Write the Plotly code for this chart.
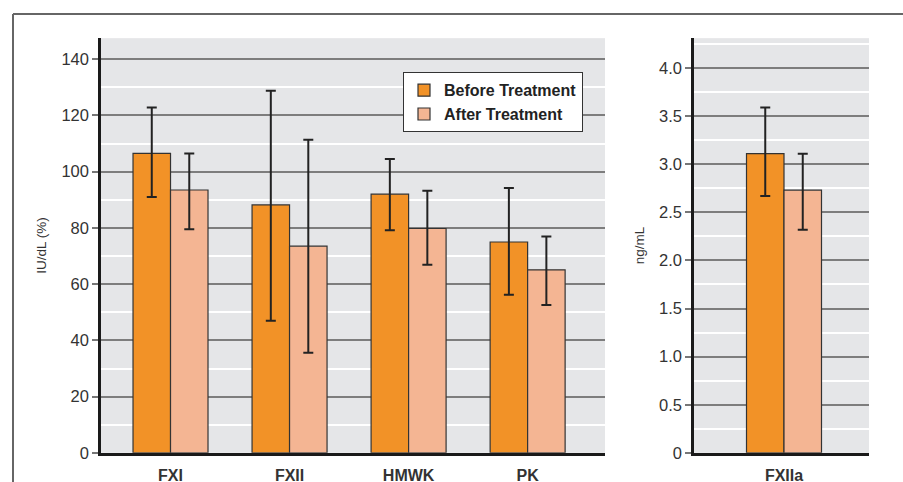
import plotly.graph_objects as go

# ---- data ----
categories = ["FXI", "FXII", "HMWK", "PK"]
before_vals = [106.5, 88.2, 92.0, 75.0]
before_hi = [122.8, 128.8, 104.5, 94.2]
before_lo = [91.0, 47.0, 79.2, 56.2]
after_vals = [93.5, 73.5, 79.8, 65.1]
after_hi = [106.5, 111.4, 93.2, 77.0]
after_lo = [79.5, 35.6, 66.9, 52.6]

cat2 = ["FXIIa"]
before2 = [3.11]
before2_hi = [3.59]
before2_lo = [2.67]
after2 = [2.73]
after2_hi = [3.11]
after2_lo = [2.32]

left_ticks = [0, 20, 40, 60, 80, 100, 120, 140]
right_ticks = [0, 0.5, 1.0, 1.5, 2.0, 2.5, 3.0, 3.5, 4.0]
right_ticktext = ["0", "0.5", "1.0", "1.5", "2.0", "2.5", "3.0", "3.5", "4.0"]

series_names = ["Before Treatment", "After Treatment"]
colors = ["#f29227", "#f4b593"]

W, H = 903, 493
RH = 482  # reference height used for fractional placement
FONT = "Liberation Sans, Arial, Helvetica, sans-serif"


def plus(v, hi):
    return [h - x for x, h in zip(v, hi)]


def minus(v, lo):
    return [x - l for x, l in zip(v, lo)]


fig = go.Figure()
err_style = dict(type="data", color="#222222", thickness=2, width=5, visible=True)
bar_line = dict(color="#333333", width=1.2)

fig.add_trace(go.Bar(x=categories, y=before_vals, name=series_names[0],
                     marker=dict(color=colors[0], line=bar_line),
                     error_y=dict(array=plus(before_vals, before_hi),
                                  arrayminus=minus(before_vals, before_lo), **err_style),
                     xaxis="x", yaxis="y", legendgroup="b"))
fig.add_trace(go.Bar(x=categories, y=after_vals, name=series_names[1],
                     marker=dict(color=colors[1], line=bar_line),
                     error_y=dict(array=plus(after_vals, after_hi),
                                  arrayminus=minus(after_vals, after_lo), **err_style),
                     xaxis="x", yaxis="y", legendgroup="a"))
fig.add_trace(go.Bar(x=cat2, y=before2, name=series_names[0], showlegend=False,
                     marker=dict(color=colors[0], line=bar_line),
                     error_y=dict(array=plus(before2, before2_hi),
                                  arrayminus=minus(before2, before2_lo), **err_style),
                     xaxis="x2", yaxis="y2", legendgroup="b"))
fig.add_trace(go.Bar(x=cat2, y=after2, name=series_names[1], showlegend=False,
                     marker=dict(color=colors[1], line=bar_line),
                     error_y=dict(array=plus(after2, after2_hi),
                                  arrayminus=minus(after2, after2_lo), **err_style),
                     xaxis="x2", yaxis="y2", legendgroup="a"))

ybot = (RH - 451) / RH
ytop = (RH - 38) / RH

common_x = dict(showgrid=False, showline=True, linecolor="#1a1a1a", linewidth=2.5,
                ticks="", ticklabelstandoff=6,
                tickfont=dict(family=FONT, size=16, color="#333333", weight="bold"),
                fixedrange=True, type="category")
common_y = dict(showline=True, linecolor="#1a1a1a", linewidth=2.5, ticks="outside",
                ticklen=6, tickcolor="#777777", tickwidth=1.5,
                gridcolor="#7d7d7d", gridwidth=1.5, zeroline=False,
                tickfont=dict(family=FONT, size=16.5, color="#333333"),
                fixedrange=True)

fig.update_layout(
    width=W, height=H,
    margin=dict(l=0, r=0, t=0, b=0),
    paper_bgcolor="white",
    plot_bgcolor="#e5e6e8",
    barmode="group", bargap=0.37, bargroupgap=0,
    font=dict(family=FONT, color="#333333"),
    xaxis=dict(domain=[101 / W, 605 / W], range=[-0.584, 3.65], anchor="y", **common_x),
    xaxis2=dict(domain=[694 / W, 869 / W], range=[-0.756, 0.714], anchor="y2", **common_x),
    yaxis=dict(domain=[ybot, ytop], range=[0, 147.5], tickvals=left_ticks, anchor="x",
               minor=dict(tickvals=[10, 30, 50, 70, 90, 110, 130, 150], showgrid=True,
                          gridcolor="white", gridwidth=1.5, ticks=""),
               title=dict(text="IU/dL (%)", font=dict(family=FONT, size=13.5, color="#333333"),
                          standoff=12),
               **common_y),
    yaxis2=dict(domain=[ybot, ytop], range=[0, 4.31], tickvals=right_ticks,
                ticktext=right_ticktext, anchor="x2",
                minor=dict(tickvals=[0.25, 0.75, 1.25, 1.75, 2.25, 2.75, 3.25, 3.75, 4.25],
                           showgrid=True, gridcolor="white", gridwidth=1.5, ticks=""),
                title=dict(text="ng/mL", font=dict(family=FONT, size=13.5, color="#333333"),
                           standoff=12),
                **common_y),
    legend=dict(x=403 / W, y=(RH - 72) / RH, xanchor="left", yanchor="top",
                bgcolor="white", bordercolor="#333333", borderwidth=1,
                font=dict(family=FONT, size=16, color="#222222", weight="bold"),
                tracegroupgap=0, itemwidth=30, traceorder="normal"),
    showlegend=True,
)

# outer frame lines
fig.add_shape(type="line", xref="paper", yref="paper", x0=13 / W, x1=1.0,
              y0=(RH - 14) / RH, y1=(RH - 14) / RH, line=dict(color="#666666", width=2))
fig.add_shape(type="line", xref="paper", yref="paper", x0=13 / W, x1=13 / W,
              y0=0, y1=(RH - 14) / RH, line=dict(color="#666666", width=2))

post = (
    "var d=document.documentElement,b=document.body;"
    "d.style.margin='0';d.style.padding='0';"
    "b.style.margin='0';b.style.padding='0';"
)

fig.write_html("out.html", config={"displayModeBar": False}, post_script=post)
